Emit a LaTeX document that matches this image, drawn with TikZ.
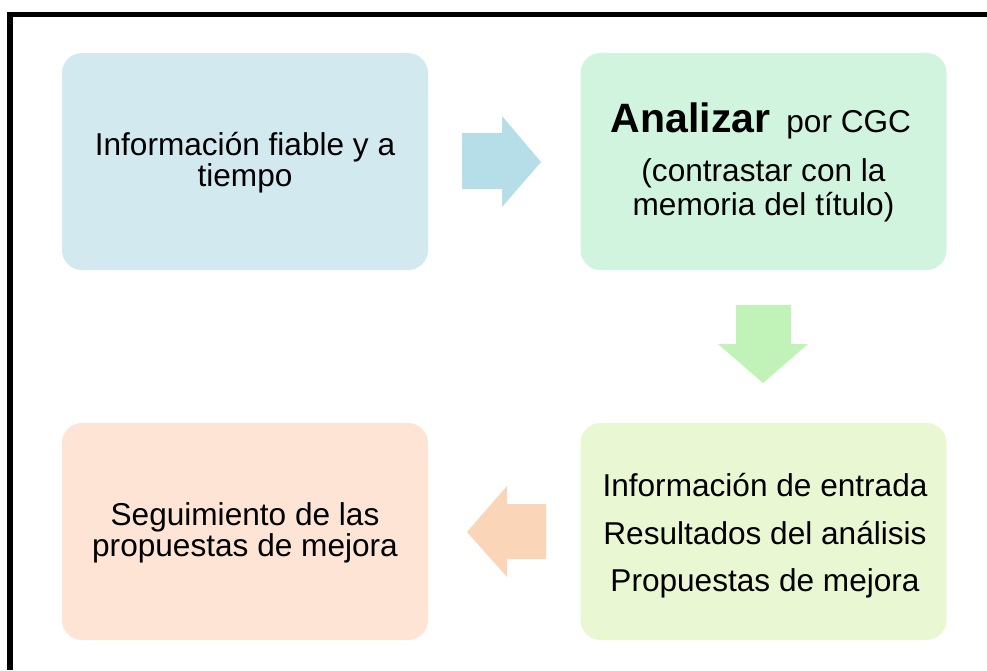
\documentclass[tikz,border=0pt]{standalone}
\usepackage{fontspec}
\setmainfont{Liberation Sans}
\definecolor{boxA}{RGB}{211,233,240}
\definecolor{boxB}{RGB}{209,244,222}
\definecolor{boxC}{RGB}{253,228,212}
\definecolor{boxD}{RGB}{234,247,211}
\definecolor{arrA}{RGB}{182,222,232}
\definecolor{arrB}{RGB}{193,242,184}
\definecolor{arrC}{RGB}{251,213,184}
\tikzset{
  card/.style={rounded corners=20pt, minimum width=366pt, minimum height=217pt, inner sep=0pt, draw=none},
  txt/.style={anchor=base, inner sep=0pt, font=\fontsize{31.6}{31.6}\selectfont},
}
\begin{document}
\begin{tikzpicture}[x=1pt,y=-1pt]
\useasboundingbox (0,0) rectangle (987,670);
% frame
\draw[line width=5.5pt, line join=miter] (10,670) -- (10,14.5) -- (987,14.5);
% boxes
\node[card, fill=boxA] (b1) at (245,161.5) {};
\node[card, fill=boxB] (b2) at (763.5,161.5) {};
\node[card, fill=boxC] (b3) at (245,531.5) {};
\node[card, fill=boxD] (b4) at (763.5,531.5) {};
% texts
\node[txt] (t1a) at (245,155) {Información fiable y a};
\node[txt] (t1b) at (245,186) {tiempo};
\node[txt] (t2a) at (761,132.7) {{\fontsize{41}{41}\selectfont\bfseries Analizar}\hspace{16pt}por CGC};
\node[txt] (t2b) at (763.5,181.7) {(contrastar con la};
\node[txt] (t2c) at (763.5,215) {memoria del título)};
\node[txt] (t3a) at (245,525) {Seguimiento de las};
\node[txt] (t3b) at (245,556) {propuestas de mejora};
\node[txt] (t4a) at (765,496.7) {Información de entrada};
\node[txt] (t4b) at (765,544.3) {Resultados del análisis};
\node[txt] (t4c) at (765,591.7) {Propuestas de mejora};
% block arrows
\fill[arrA] (462,133) -- (502,133) -- (502,116) -- (541,162) -- (502,207) -- (502,189) -- (462,189) -- cycle;
\fill[arrB] (736,305) -- (791,305) -- (791,344) -- (808,344) -- (763,383) -- (718,344) -- (736,344) -- cycle;
\fill[arrC] (546,504) -- (507,504) -- (507,486) -- (467,532) -- (507,577) -- (507,559) -- (546,559) -- cycle;
\end{tikzpicture}
\end{document}
